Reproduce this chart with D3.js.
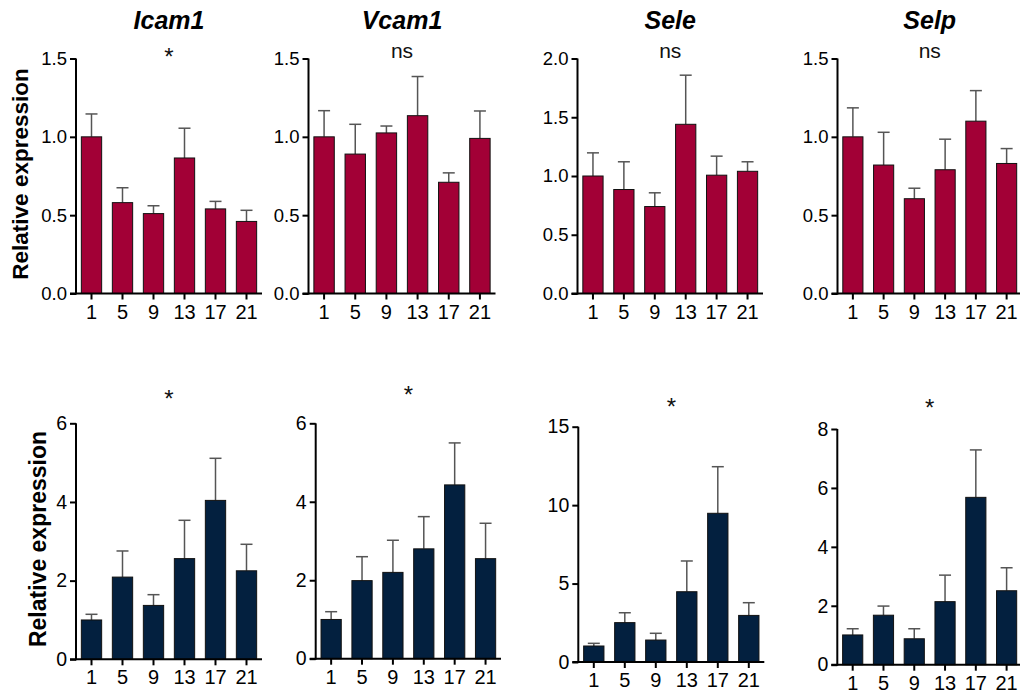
<!DOCTYPE html>
<html>
<head>
<meta charset="utf-8">
<script src="https://cdn.jsdelivr.net/npm/d3@7"></script>
<style>
  html, body { margin: 0; padding: 0; background: #fff; }
  svg { display: block; font-family: "Liberation Sans", Arial, Helvetica, sans-serif; }
</style>
</head>
<body>
<svg id="chart" width="1020" height="693"></svg>
<script>
// Sampling time points (hours)
const hours = ["1", "5", "9", "13", "17", "21"];
const genes = ["Icam1", "Vcam1", "Sele", "Selp"];

// Upper row: relative expression (mean) and SEM per gene
const topIcam1 = [1.0, 0.58, 0.51, 0.865, 0.54, 0.46];
const topIcam1Sem = [0.146, 0.095, 0.05, 0.19, 0.048, 0.071];
const topVcam1 = [1.0, 0.89, 1.025, 1.135, 0.71, 0.99];
const topVcam1Sem = [0.167, 0.19, 0.044, 0.25, 0.06, 0.175];
const topSele = [1.0, 0.885, 0.74, 1.44, 1.007, 1.04];
const topSeleSem = [0.197, 0.236, 0.117, 0.418, 0.162, 0.081];
const topSelp = [1.0, 0.82, 0.605, 0.79, 1.1, 0.83];
const topSelpSem = [0.185, 0.209, 0.067, 0.195, 0.195, 0.095];

// Lower row: relative expression (mean) and SEM per gene
const botIcam1 = [1.0, 2.09, 1.37, 2.56, 4.04, 2.25];
const botIcam1Sem = [0.144, 0.664, 0.273, 0.974, 1.07, 0.674];
const botVcam1 = [1.0, 1.99, 2.2, 2.8, 4.43, 2.55];
const botVcam1Sem = [0.198, 0.61, 0.819, 0.821, 1.07, 0.902];
const botSele = [1.02, 2.51, 1.40, 4.48, 9.48, 2.97];
const botSeleSem = [0.17, 0.63, 0.43, 1.96, 2.97, 0.81];
const botSelp = [1.01, 1.68, 0.88, 2.14, 5.68, 2.51];
const botSelpSem = [0.21, 0.31, 0.34, 0.9, 1.61, 0.78];

// Significance markers
const topStats = ["*", "ns", "ns", "ns"];
const botStats = ["*", "*", "*", "*"];

// Axis maxima and tick steps
const topMax = [1.5, 1.5, 2.0, 1.5];
const topStep = [0.5, 0.5, 0.5, 0.5];
const botMax = [6, 6, 15, 8];
const botStep = [2, 2, 5, 2];

const yLabel = "Relative expression";

const topMeans = [topIcam1, topVcam1, topSele, topSelp];
const topSems = [topIcam1Sem, topVcam1Sem, topSeleSem, topSelpSem];
const botMeans = [botIcam1, botVcam1, botSele, botSelp];
const botSems = [botIcam1Sem, botVcam1Sem, botSeleSem, botSelpSem];

// Panel frames: left axis x, right end, bottom y, top y
const topFrames = [
  { x0: 76, x1: 262, y0: 293.5, y1: 58.5 },
  { x0: 308.5, x1: 495.5, y0: 293.5, y1: 58.5 },
  { x0: 577.5, x1: 763, y0: 293.5, y1: 58.5 },
  { x0: 837.5, x1: 1022, y0: 293.5, y1: 58.5 }
];
const botFrames = [
  { x0: 76, x1: 262, y0: 659.3, y1: 423.3 },
  { x0: 315.7, x1: 501, y0: 658.7, y1: 423.3 },
  { x0: 578.3, x1: 764.3, y0: 662, y1: 426.7 },
  { x0: 837.3, x1: 1022, y0: 664.7, y1: 429 }
];
const botStatY = [407, 403, 415, 416];

const svg = d3.select("#chart");

function drawPanel(frame, means, sems, yMax, step, fill, opts) {
  const g = svg.append("g");
  const x = d3.scaleBand().domain(hours).range([frame.x0, frame.x1])
    .paddingInner(0.345).paddingOuter(0.1725);
  const y = d3.scaleLinear().domain([0, yMax]).range([frame.y0, frame.y1]);
  const rows = hours.map((h, i) => ({ h, m: means[i], s: sems[i] }));

  // error bars (upper only)
  const eb = g.append("g").attr("stroke", "#555").attr("stroke-width", 1.5).attr("fill", "none");
  rows.forEach(d => {
    const cx = x(d.h) + x.bandwidth() / 2;
    eb.append("line").attr("x1", cx).attr("x2", cx).attr("y1", y(d.m)).attr("y2", y(d.m + d.s));
    eb.append("line").attr("x1", cx - 6).attr("x2", cx + 6).attr("y1", y(d.m + d.s)).attr("y2", y(d.m + d.s));
  });

  // bars
  g.append("g").selectAll("rect").data(rows).join("rect")
    .attr("x", d => x(d.h))
    .attr("y", d => y(d.m))
    .attr("width", x.bandwidth())
    .attr("height", d => y(0) - y(d.m))
    .attr("fill", fill)
    .attr("stroke", "#111")
    .attr("stroke-width", 1);

  // y axis
  const ticks = d3.range(0, yMax + step / 2, step);
  const yAxis = d3.axisLeft(y).tickValues(ticks).tickSize(6).tickPadding(3)
    .tickFormat(opts.yFormat);
  const ya = g.append("g").attr("transform", `translate(${frame.x0},0)`).call(yAxis);
  ya.select(".domain").attr("stroke", "#000").attr("stroke-width", 2).attr("d", `M0,${frame.y0 + 1}V${frame.y1}`);
  ya.selectAll(".tick line").attr("stroke", "#000").attr("stroke-width", 2);
  ya.selectAll(".tick text").attr("fill", "#000").style("font-size", opts.yFont + "px");

  // x axis
  const xAxis = d3.axisBottom(x).tickSize(6).tickPadding(5);
  const xa = g.append("g").attr("transform", `translate(0,${frame.y0})`).call(xAxis);
  xa.select(".domain").attr("stroke", "#000").attr("stroke-width", 2).attr("d", `M${frame.x0 - 6},0H${frame.x1}`);
  xa.selectAll(".tick line").attr("stroke", "#000").attr("stroke-width", 2);
  xa.selectAll(".tick text").attr("fill", "#000").style("font-size", "20px");

  // significance marker
  g.append("text")
    .attr("x", (frame.x0 + frame.x1) / 2)
    .attr("y", opts.statY)
    .attr("text-anchor", "middle")
    .attr("fill", "#111")
    .style("font-size", opts.stat === "*" ? "24px" : "21px")
    .text(opts.stat);

  if (opts.title) {
    g.append("text")
      .attr("x", (frame.x0 + frame.x1) / 2)
      .attr("y", 29)
      .attr("text-anchor", "middle")
      .attr("fill", "#000")
      .style("font-size", "25px")
      .style("font-weight", "bold")
      .style("font-style", "italic")
      .text(opts.title);
  }
}

genes.forEach((gene, i) => {
  drawPanel(topFrames[i], topMeans[i], topSems[i], topMax[i], topStep[i], "#A20036", {
    yFormat: d3.format(".1f"), yFont: 18.5, stat: topStats[i],
    statY: topStats[i] === "*" ? 65 : 58, title: gene
  });
  drawPanel(botFrames[i], botMeans[i], botSems[i], botMax[i], botStep[i], "#03203F", {
    yFormat: d3.format("d"), yFont: 19.5, stat: botStats[i], statY: botStatY[i], title: null
  });
});

// y-axis titles
svg.append("text")
  .attr("transform", "translate(28,174) rotate(-90)")
  .attr("text-anchor", "middle")
  .attr("fill", "#000")
  .style("font-size", "22.5px").style("font-weight", "bold")
  .text(yLabel);
svg.append("text")
  .attr("transform", "translate(46,539) rotate(-90)")
  .attr("text-anchor", "middle")
  .attr("fill", "#000")
  .style("font-size", "23px").style("font-weight", "bold")
  .text(yLabel);
</script>
</body>
</html>
